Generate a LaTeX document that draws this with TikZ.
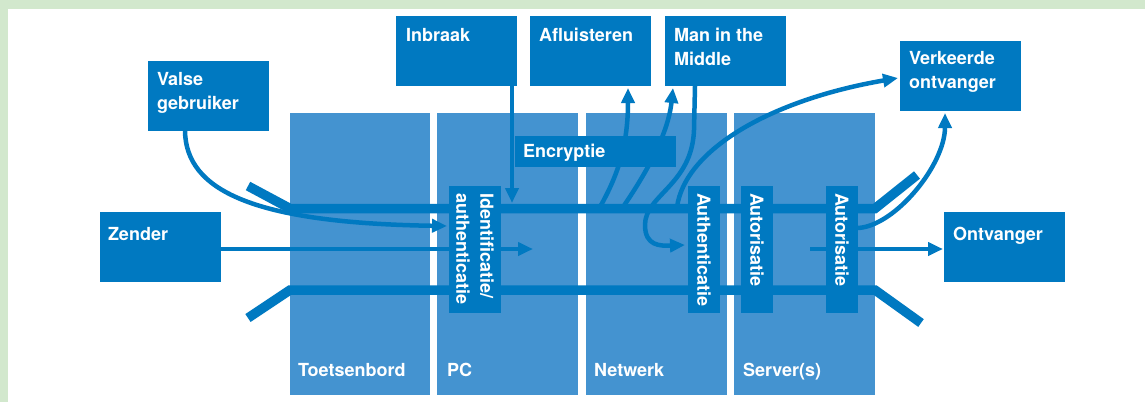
\documentclass[tikz,border=0pt]{standalone}
\usepackage{fontspec}
\setmainfont{TeX Gyre Heros}
\usetikzlibrary{arrows.meta}

\definecolor{framegreen}{RGB}{210,232,205}
\definecolor{laneblue}{RGB}{68,147,208}
\definecolor{deepblue}{RGB}{0,121,193}

\pgfdeclarelayer{ground}
\pgfdeclarelayer{flows}
\pgfsetlayers{ground,flows,main}

\begin{document}
\begin{tikzpicture}[x=1pt, y=-1pt,
  every node/.style={inner sep=0pt, outer sep=0pt},
  lanebox/.style={fill=laneblue, minimum width=141pt, minimum height=282pt, anchor=north west},
  tile/.style={fill=deepblue, anchor=north west},
  caption/.style={text=white, font=\bfseries\fontsize{18}{24}\selectfont, align=left, anchor=north west},
  rail/.style={draw=deepblue, line width=9.5pt},
  flow/.style={draw=deepblue, line width=4.5pt, -{Triangle[length=15pt,width=13pt]}},
]
\useasboundingbox (0,0) rectangle (1145,402);

\begin{pgfonlayer}{ground}
\fill[white] (0,0) rectangle (1145,402);
\fill[framegreen] (0,0) rectangle (1145,8.5);
\fill[framegreen] (0,0) rectangle (8,402);

% the four layers
\node[lanebox, minimum width=140pt] (kb) at (290,113) {};
\node[lanebox] (pc)  at (437,113) {};
\node[lanebox] (net) at (586,113) {};
\node[lanebox] (srv) at (734,113) {};
\node[caption, anchor=base west] (kb-t)  at ([xshift=8pt,yshift=19pt]kb.south west)  {Toetsenbord};
\node[caption, anchor=base west] (pc-t)  at ([xshift=10pt,yshift=19pt]pc.south west) {PC};
\node[caption, anchor=base west] (net-t) at ([xshift=8pt,yshift=19pt]net.south west) {Netwerk};
\node[caption, anchor=base west] (srv-t) at ([xshift=9pt,yshift=19pt]srv.south west) {Server(s)};

% the channel walls
\draw[rail] (248,186) -- (290,208.5) -- (875,208.5) -- (917,175);
\draw[rail] (248,318) -- (290,290) -- (875,290) -- (921,323);
\end{pgfonlayer}

% outer boxes
\node[tile, minimum width=121pt, minimum height=70pt] (valse)   at (148,61)  {};
\node[tile, minimum width=121pt, minimum height=70pt] (inbraak) at (396,16)  {};
\node[tile, minimum width=121pt, minimum height=70pt] (afl)     at (530,16)  {};
\node[tile, minimum width=121pt, minimum height=70pt] (mitm)    at (665,16)  {};
\node[tile, minimum width=121pt, minimum height=70pt] (verk)    at (900,41)  {};
\node[tile, minimum width=121pt, minimum height=70pt] (zender)  at (100,212) {};
\node[tile, minimum width=121pt, minimum height=70pt] (ontv)    at (944,212) {};

% checkpoints inside the channel
\node[tile, minimum width=52pt, minimum height=127pt] (ident)  at (449,186) {};
\node[tile, minimum width=32pt, minimum height=127pt] (auth)   at (688,186) {};
\node[tile, minimum width=32pt, minimum height=127pt] (autor1) at (741,186) {};
\node[tile, minimum width=32pt, minimum height=127pt] (autor2) at (826,186) {};
\node[tile, minimum width=161pt, minimum height=31pt] (encr) at (515,136) {};

% flows, kept beneath the boxes
\coordinate (zend) at (533,249);
\coordinate (inbend) at (512,203);
\coordinate (tapA) at (600,207);
\coordinate (tapB) at (623,207);
\coordinate (tapC) at (677,207);
\coordinate (ostart) at (810,249);

\begin{pgfonlayer}{flows}
\draw[flow] ([yshift=-2pt]zender.east) -- (zend);
\draw[flow] ([xshift=37pt]valse.south west) .. controls (186,190) and (252,223) .. ([xshift=-2pt,yshift=-40pt]ident.north west);
\draw[flow] ([xshift=-5pt]inbraak.south east) -- (inbend);
\draw[flow] (tapA) .. controls (615,180) and (628,150) .. ([xshift=98pt,yshift=-2pt]afl.south west);
\draw[flow] (tapB) .. controls (645,175) and (668,135) .. ([xshift=8pt,yshift=-2pt]mitm.south west);
\draw[flow] ([xshift=30pt]mitm.south west) -- (694,130) .. controls (692,185) and (645,195) .. (645,225)
            .. controls (645,246) and (660,246) .. ([xshift=-3pt,yshift=-59pt]auth.north west);
\draw[flow] (tapC) .. controls (685,150) and (770,100) .. ([xshift=-2pt,yshift=-37pt]verk.north west);
\draw[flow] ([yshift=-42pt]autor2.north east) .. controls (895,226) and (945,165) .. ([xshift=45pt,yshift=-2pt]verk.south west);
\draw[flow] (ostart) -- ([xshift=-1pt,yshift=-37pt]ontv.north west);
\end{pgfonlayer}

% labels
\node[caption] (valse-t)   at ([xshift=9pt,yshift=-11pt]valse.north west)   {Valse\\gebruiker};
\node[caption] (inbraak-t) at ([xshift=10pt,yshift=-12pt]inbraak.north west) {Inbraak};
\node[caption] (afl-t)     at ([xshift=9pt,yshift=-12pt]afl.north west)     {Afluisteren};
\node[caption] (mitm-t)    at ([xshift=9pt,yshift=-12pt]mitm.north west)    {Man in the\\Middle};
\node[caption] (verk-t)    at ([xshift=9pt,yshift=-10pt]verk.north west)    {Verkeerde\\ontvanger};
\node[caption] (zender-t)  at ([xshift=8pt,yshift=-15pt]zender.north west)  {Zender};
\node[caption] (ontv-t)    at ([xshift=9pt,yshift=-15pt]ontv.north west)    {Ontvanger};
\node[caption] (encr-t)    at ([xshift=8pt,yshift=-8pt]encr.north west)     {Encryptie};

\node[caption, rotate=-90, anchor=west] (ident-t)  at ([yshift=-7pt]ident.north)  {Identificatie/\\authenticatie};
\node[caption, rotate=-90, anchor=west] (auth-t)   at ([yshift=-7pt]auth.north)   {Authenticatie};
\node[caption, rotate=-90, anchor=west] (autor1-t) at ([yshift=-7pt]autor1.north) {Autorisatie};
\node[caption, rotate=-90, anchor=west] (autor2-t) at ([yshift=-7pt]autor2.north) {Autorisatie};
\end{tikzpicture}
\end{document}
